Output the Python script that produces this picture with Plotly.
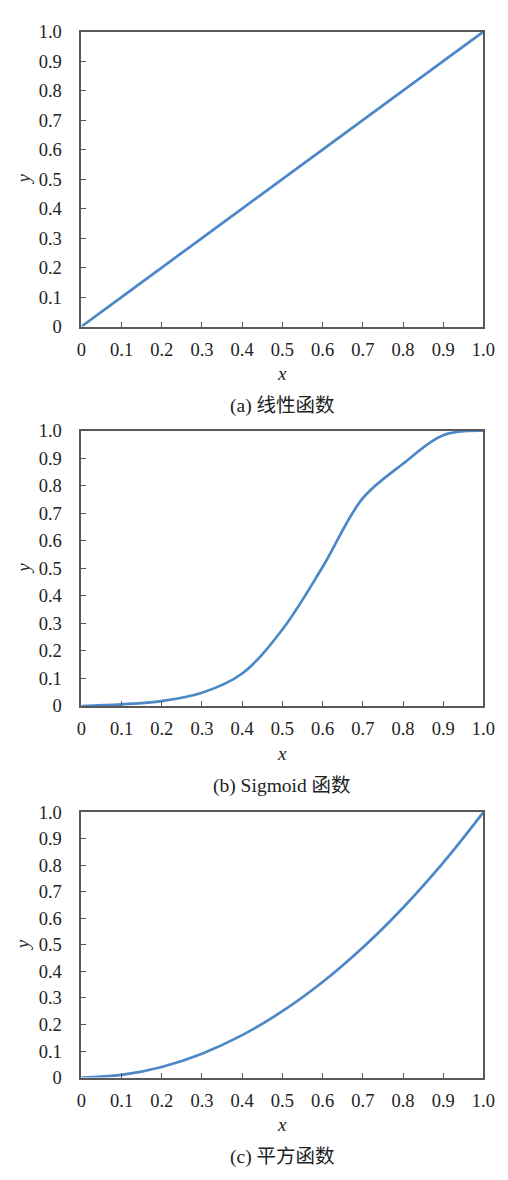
import plotly.graph_objects as go

# ---- data ----
x_vals = [0, 0.1, 0.2, 0.3, 0.4, 0.5, 0.6, 0.7, 0.8, 0.9, 1.0]
linear_y = [0, 0.1, 0.2, 0.3, 0.4, 0.5, 0.6, 0.7, 0.8, 0.9, 1.0]
sigmoid_y = [0, 0.006, 0.018, 0.048, 0.118, 0.278, 0.505, 0.755, 0.88, 0.984, 1.0]
square_y = [0, 0.01, 0.04, 0.09, 0.16, 0.25, 0.36, 0.49, 0.64, 0.81, 1.0]

tick_vals = [0, 0.1, 0.2, 0.3, 0.4, 0.5, 0.6, 0.7, 0.8, 0.9, 1.0]
tick_text = ["0", "0.1", "0.2", "0.3", "0.4", "0.5", "0.6", "0.7", "0.8", "0.9", "1.0"]
captions = ["(a) 线性函数", "(b) Sigmoid 函数", "(c) 平方函数"]
series = [linear_y, sigmoid_y, square_y]

# ---- layout geometry (pixels) ----
W, H = 508, 1180
left_px, right_px = 79, 495
panels_px = [(22, 322), (428, 708), (816, 1086)]  # (top, bottom)

FONT = "'Liberation Serif', 'Noto Sans CJK SC', serif"
LINE_COLOR = "#4C88C8"
AXIS_COLOR = "#595959"


def py(p):
    return 1 - p / H


def px(p):
    return p / W


fig = go.Figure()
annotations = []
layout_axes = {}

for i, (ys, (top, bot), cap) in enumerate(zip(series, panels_px, captions)):
    n = "" if i == 0 else str(i + 1)
    fig.add_trace(go.Scatter(
        x=x_vals, y=ys, mode="lines",
        line=dict(color=LINE_COLOR, width=2.7, shape="spline"),
        xaxis="x" + n, yaxis="y" + n, showlegend=False, hoverinfo="skip",
    ))
    common = dict(
        range=[0, 1], tickvals=tick_vals, ticktext=tick_text,
        showgrid=False, zeroline=False, showline=True, mirror=True,
        linecolor=AXIS_COLOR, linewidth=1.6, ticks="inside", ticklen=5,
        tickwidth=1.4, tickcolor=AXIS_COLOR,
        tickfont=dict(family=FONT, size=18.5, color="#222"),
        fixedrange=True,
    )
    layout_axes["xaxis" + n] = dict(common, domain=[px(left_px), px(right_px)],
                                    anchor="y" + n, ticklabelstandoff=5)
    layout_axes["yaxis" + n] = dict(common, domain=[py(bot), py(top)],
                                    anchor="x" + n, ticklabelstandoff=14)
    annotations.append(dict(
        x=px((left_px + right_px) / 2), y=py(bot + 48), xref="paper", yref="paper",
        text="<i>x</i>", showarrow=False, xanchor="center", yanchor="middle",
        font=dict(family=FONT, size=19, color="#222"),
    ))
    annotations.append(dict(
        x=px(19), y=py((top + bot) / 2), xref="paper", yref="paper",
        text="<i>y</i>", showarrow=False, xanchor="center", yanchor="middle",
        textangle=-90, font=dict(family=FONT, size=19, color="#222"),
    ))
    annotations.append(dict(
        x=px((left_px + right_px) / 2), y=py(bot + 81), xref="paper", yref="paper",
        text=cap, showarrow=False, xanchor="center", yanchor="middle",
        font=dict(family=FONT, size=19.5, color="#222"),
    ))

fig.update_layout(
    width=W, height=H,
    margin=dict(l=0, r=0, t=0, b=0),
    paper_bgcolor="white", plot_bgcolor="white",
    font=dict(family=FONT),
    annotations=annotations,
    **layout_axes,
)

fig.write_html(
    "out.html",
    config={"displayModeBar": False},
    post_script="document.body.style.margin='0';document.body.style.overflow='hidden';",
)
